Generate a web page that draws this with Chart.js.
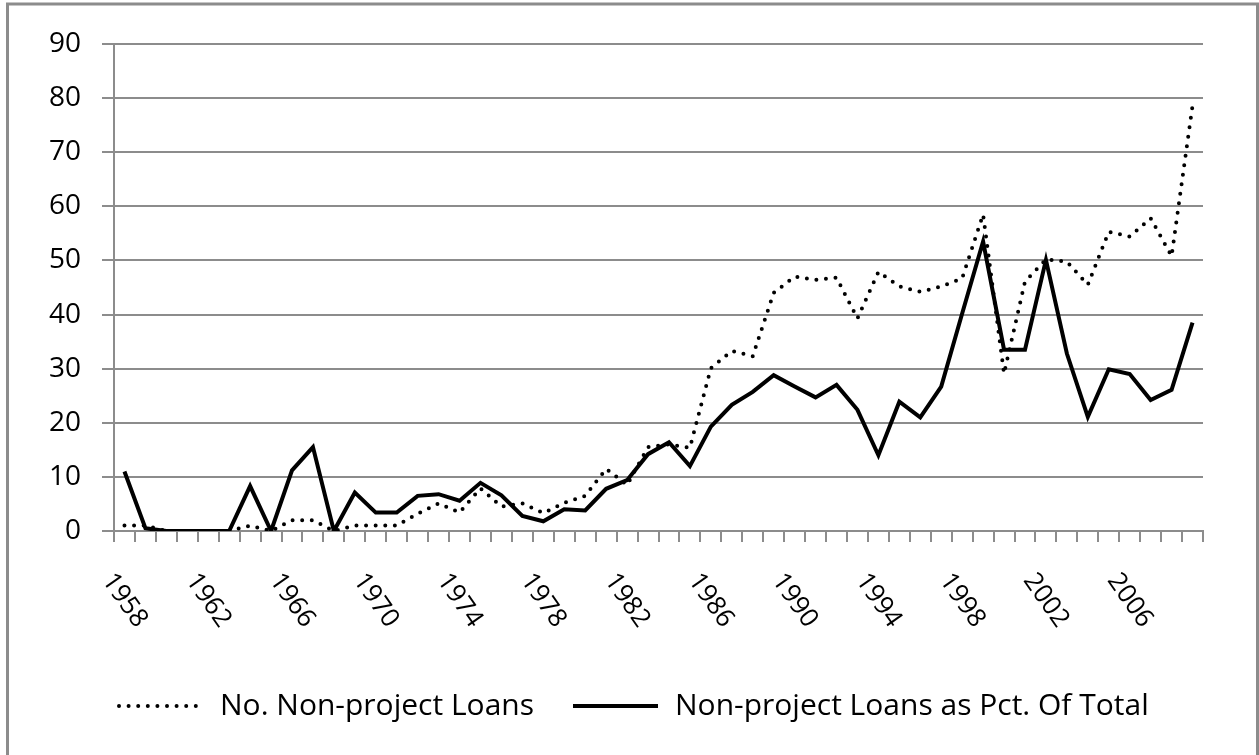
<!DOCTYPE html>
<html>
<head>
<meta charset="utf-8">
<script src="https://cdn.jsdelivr.net/npm/chart.js@4/dist/chart.umd.min.js"></script>
<style>
  html, body { margin: 0; padding: 0; background: #fff; }
  canvas { display: block; }
</style>
</head>
<body>
<canvas id="loansChart" width="1259" height="755"></canvas>
<script>
// one point per year, 1958 - 2009
var years = [];
for (var yr = 1958; yr <= 2009; yr++) years.push(yr);

// labels printed under the axis (every 4th year)
var xTickLabels = ['1958', '1962', '1966', '1970', '1974', '1978', '1982', '1986', '1990', '1994', '1998', '2002', '2006'];

// No. Non-project Loans (dotted)
var numLoans = [1, 1, 0, 0, 0, 0, 1, 0, 2, 2,
    0, 1, 1, 1, 3.2, 5.1, 3.4, 7.9, 4.5, 5.1,
    3.3, 5.2, 6.5, 11.5, 8.5, 15.5, 16, 15.4, 30.1, 33.3,
    32.3, 44, 47, 46.4, 46.8, 39.3, 47.9, 45.2, 44.2, 45.2,
    46.7, 58.5, 29.1, 46.1, 50.2, 49.8, 45.5, 55.3, 54.4, 57.8,
    50.8, 78.6];

// Non-project Loans as Pct. Of Total (solid)
var pctLoans = [11, 0.5, 0, 0, 0, 0, 8.3, 0, 11.2, 15.5,
    0, 7.1, 3.4, 3.4, 6.5, 6.8, 5.6, 8.9, 6.6, 2.8,
    1.8, 4, 3.8, 7.8, 9.4, 14.2, 16.4, 12, 19.3, 23.3,
    25.7, 28.8, 26.7, 24.7, 27, 22.4, 14, 23.9, 21, 26.7,
    40.2, 53.5, 33.5, 33.5, 50.1, 32.8, 21.1, 29.9, 29, 24.2,
    26.1, 38.5];

var seriesNames = ['No. Non-project Loans', 'Non-project Loans as Pct. Of Total'];

var FONT = '"Open Sans", "Noto Sans", sans-serif';
var GRID = '#8c8c8c';

var decorations = {
    id: 'decorations',
    beforeDraw: function (chart) {
        var ctx = chart.ctx;
        ctx.save();
        ctx.fillStyle = '#fff';
        ctx.fillRect(0, 0, chart.width, chart.height);
        // outer frame
        ctx.strokeStyle = GRID;
        ctx.lineWidth = 3;
        ctx.beginPath();
        ctx.moveTo(7.5, 760);
        ctx.lineTo(7.5, 4);
        ctx.lineTo(1257.5, 4);
        ctx.lineTo(1257.5, 760);
        ctx.stroke();
        ctx.restore();
    },
    afterDraw: function (chart) {
        var ctx = chart.ctx;
        var xs = chart.scales.x;
        ctx.save();
        // slanted year labels
        ctx.font = '26px ' + FONT;
        ctx.fillStyle = '#000';
        ctx.textAlign = 'left';
        ctx.textBaseline = 'middle';
        xTickLabels.forEach(function (lab) {
            var px = xs.getPixelForValue(years.indexOf(+lab));
            ctx.save();
            ctx.translate(px - 17, 576);
            ctx.rotate(55 * Math.PI / 180);
            ctx.fillText(lab, 0, 0);
            ctx.restore();
        });

        // legend
        var ly = 706;
        ctx.strokeStyle = '#000';
        ctx.lineWidth = 4;
        ctx.lineCap = 'round';
        ctx.setLineDash([0, 9.6]);
        ctx.beginPath();
        ctx.moveTo(119, ly);
        ctx.lineTo(203, ly);
        ctx.stroke();
        ctx.setLineDash([]);
        ctx.lineCap = 'butt';
        ctx.lineWidth = 4;
        ctx.beginPath();
        ctx.moveTo(573, ly);
        ctx.lineTo(658, ly);
        ctx.stroke();
        ctx.font = '30px ' + FONT;
        ctx.fillText(seriesNames[0], 220, ly);
        ctx.fillText(seriesNames[1], 675, ly);
        ctx.restore();
    }
};

var ctx = document.getElementById('loansChart').getContext('2d');
var chart = new Chart(ctx, {
    type: 'line',
    data: {
        labels: years,
        datasets: [{
            label: seriesNames[0],
            data: numLoans,
            borderColor: '#000',
            borderWidth: 4,
            borderDash: [0, 9.6],
            borderCapStyle: 'round',
            pointRadius: 0,
            tension: 0,
            fill: false
        }, {
            label: seriesNames[1],
            data: pctLoans,
            borderColor: '#000',
            borderWidth: 4,
            borderJoinStyle: 'miter',
            pointRadius: 0,
            tension: 0,
            fill: false
        }]
    },
    options: {
        responsive: false,
        animation: false,
        layout: { padding: { left: 0, right: 56, top: 44, bottom: 204 } },
        plugins: {
            legend: { display: false },
            tooltip: { enabled: false }
        },
        scales: {
            x: {
                type: 'category',
                offset: true,
                grid: { offset: true, drawOnChartArea: false, tickLength: 11, color: GRID, lineWidth: 2 },
                border: { color: GRID, width: 2 },
                ticks: { display: false },
                afterFit: function (s) { s.height = 20; }
            },
            y: {
                min: 0,
                max: 90,
                ticks: { stepSize: 10, color: '#000', padding: 21, font: { family: FONT, size: 28 } },
                grid: { color: GRID, lineWidth: 2, tickLength: 12 },
                border: { color: GRID, width: 2 },
                afterFit: function (s) { s.width = 114; }
            }
        }
    },
    plugins: [decorations]
});
</script>
</body>
</html>
